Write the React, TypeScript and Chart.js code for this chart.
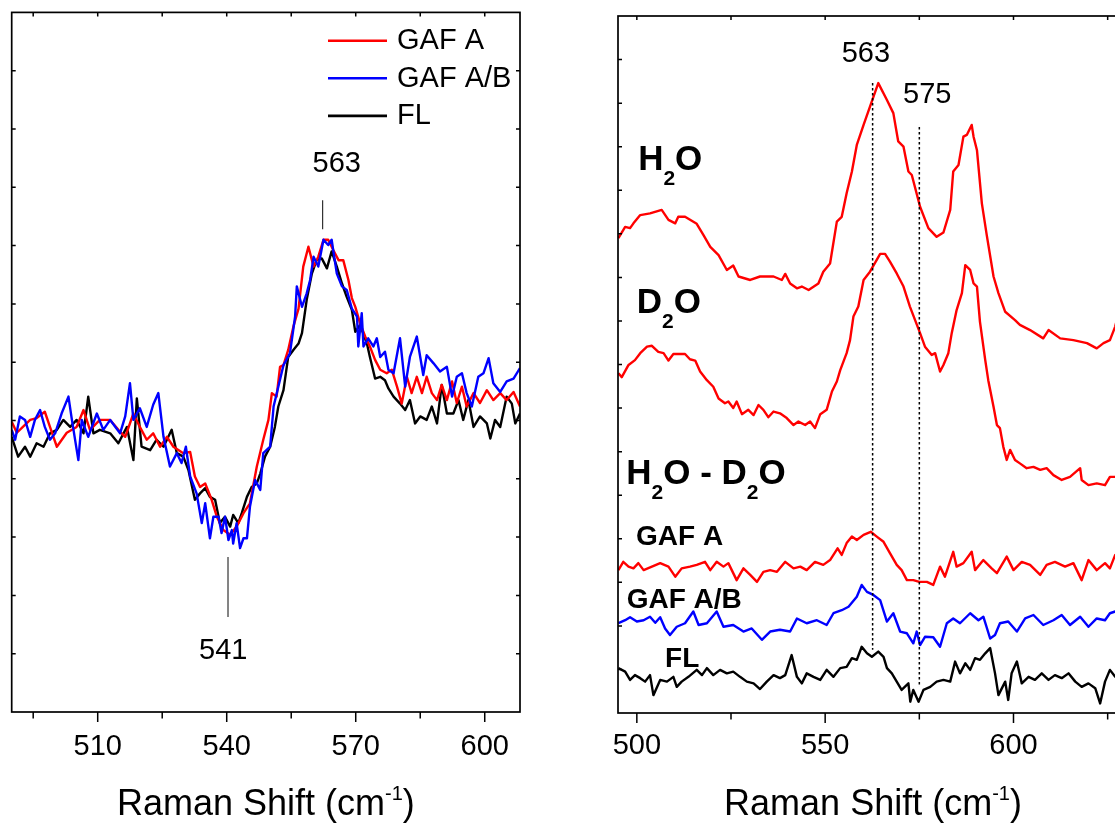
import React, { useEffect, useRef } from 'react';
import { Chart, registerables } from 'chart.js';

Chart.register(...registerables);

const FONT = "'Liberation Sans', Arial, Helvetica, sans-serif";

// ---------------- Left panel data ----------------
const LEFT_X_TICKS = [510, 540, 570, 600];
const LEFT_X_MINOR = [495, 525, 555, 585];

const LEFT_GAFA_X = [490.0,491.2,492.6,494.3,495.8,497.7,498.9,500.5,502.8,505.1,506.7,508.2,510.5,512.9,514.8,516.4,518.3,519.8,521.4,522.9,524.5,526.1,527.6,529.9,531.5,532.6,533.8,535.0,536.5,537.7,539.2,540.8,542.3,543.9,545.4,547.0,548.5,549.7,550.5,551.6,552.4,553.2,554.3,555.5,556.7,557.8,559.0,560.2,561.3,562.5,563.6,564.8,566.0,567.1,568.3,569.1,569.9,571.0,572.2,573.3,574.5,575.7,577.2,578.4,579.6,580.7,581.9,583.0,584.2,585.4,586.5,587.7,588.9,590.0,591.2,592.4,593.5,594.7,595.8,597.4,598.9,600.5,602.0,603.6,605.1,606.7,608.2];
const LEFT_GAFA_Y = [4.98,4.79,4.89,5.01,5.04,5.15,4.89,4.55,4.79,4.89,5.18,4.84,5.01,5.01,4.84,4.72,5.12,4.89,4.67,4.78,4.55,4.72,4.55,4.44,4.46,4.04,3.86,3.92,3.64,3.35,3.12,3.04,3.18,3.41,3.58,4.21,4.67,5.01,5.47,5.41,5.92,5.95,6.21,6.61,6.92,7.64,7.98,7.64,7.81,8.10,8.10,7.92,7.75,7.75,7.41,7.10,6.95,6.67,6.44,6.27,6.04,5.87,5.81,5.87,5.58,5.29,5.75,5.47,5.75,5.47,5.75,5.47,5.35,5.61,5.35,5.67,5.30,5.58,5.24,5.47,5.30,5.52,5.35,5.47,5.35,5.49,5.24];

const LEFT_GAFAB_X = [490.0,490.8,491.9,493.1,494.3,495.4,496.6,497.7,498.9,500.1,501.6,503.2,504.0,505.5,506.3,507.8,509.8,511.3,512.9,515.2,516.4,517.5,518.3,519.8,521.4,522.9,524.1,525.3,526.8,528.4,529.5,530.5,531.5,533.0,534.2,535.0,536.1,536.9,538.1,538.8,539.6,540.4,541.2,541.5,542.3,543.1,543.9,544.7,545.4,546.6,547.8,548.5,550.1,550.9,552.0,553.2,554.7,555.9,556.3,557.5,558.6,559.4,560.2,561.3,562.5,563.6,564.4,565.6,566.8,567.9,569.1,570.3,570.6,571.4,571.8,572.9,574.1,574.9,575.7,576.8,577.6,578.8,580.3,581.5,582.6,584.2,585.7,586.5,588.1,589.6,591.2,592.4,593.5,594.7,595.8,597.0,598.5,599.7,600.9,602.0,603.6,605.1,606.7,608.2];
const LEFT_GAFAB_Y = [4.84,4.67,5.07,5.01,4.72,5.01,5.18,4.89,4.67,4.78,5.12,5.41,5.01,4.32,5.01,4.72,5.12,4.84,5.01,4.78,5.07,5.64,5.01,5.21,4.89,5.27,5.47,4.72,4.21,4.44,4.27,4.55,4.04,3.75,3.24,3.58,2.98,3.35,3.35,3.07,3.35,2.95,3.12,2.89,3.24,2.81,2.98,2.98,3.52,3.98,3.81,4.44,4.55,5.24,5.58,5.95,6.15,6.78,7.30,6.95,7.18,7.41,7.81,7.64,8.10,8.01,8.10,7.52,7.30,7.24,6.92,6.78,6.27,6.84,6.27,6.41,6.27,6.41,6.09,6.18,5.87,5.81,6.41,5.58,6.09,6.44,5.78,6.12,5.98,5.84,5.92,5.41,5.75,5.81,5.47,5.24,5.75,5.81,6.07,5.64,5.49,5.67,5.72,5.90];

const LEFT_FL_X = [490.0,491.5,493.1,494.3,495.8,497.4,498.9,500.5,502.0,503.6,505.1,506.7,507.8,509.0,510.5,512.9,514.8,516.8,518.3,519.1,520.2,522.2,523.7,525.3,527.2,528.4,529.9,531.1,532.6,533.8,535.0,536.1,537.3,538.4,539.6,540.8,541.5,542.7,543.5,544.7,545.8,547.0,547.8,548.9,550.1,551.2,552.0,553.2,554.3,555.5,556.7,557.5,558.6,559.8,560.9,562.1,563.3,564.4,565.6,566.8,567.9,569.1,569.9,571.0,572.6,573.3,574.5,575.7,576.8,577.6,578.8,580.3,581.5,582.6,583.8,585.0,586.5,587.7,588.9,590.0,591.2,592.7,593.9,595.0,596.2,597.4,598.9,600.5,601.3,602.4,603.6,605.1,606.3,607.1,608.2];
const LEFT_FL_Y = [4.72,4.38,4.55,4.38,4.61,4.55,4.78,4.84,5.01,4.89,5.01,4.78,5.41,4.78,4.84,4.78,4.61,4.89,4.32,5.38,4.55,4.49,4.67,4.55,4.84,4.44,4.38,4.15,3.64,3.75,3.84,3.69,3.64,3.24,3.35,3.18,3.38,3.24,3.41,3.69,3.86,3.92,4.09,4.38,4.55,4.89,5.24,5.52,6.09,6.21,6.32,6.50,7.07,7.52,7.75,7.78,7.61,7.90,7.64,7.35,7.12,6.90,6.52,6.64,6.32,6.09,5.72,5.75,5.69,5.55,5.41,5.29,5.18,5.35,4.95,5.07,5.01,5.24,4.95,5.61,5.12,5.12,5.35,5.01,5.35,4.89,5.07,4.95,4.69,5.01,4.89,5.41,5.29,4.95,5.12];

// ---------------- Right panel data ----------------
const RIGHT_X_TICKS = [500, 550, 600];
const RIGHT_X_MINOR = [525, 575, 625];

const H2O_X = [495.1,496.9,498.2,499.1,500.9,503.5,506.6,508.4,510.2,511.0,512.8,515.9,517.7,519.5,521.7,523.9,525.6,527.0,530.1,532.7,536.3,538.5,539.4,540.7,542.5,543.8,545.6,548.2,549.5,551.3,553.1,554.4,555.7,557.1,558.4,560.2,561.9,564.1,566.4,568.1,569.4,570.8,572.1,573.0,575.2,577.4,579.6,581.4,583.2,584.0,585.4,586.7,587.6,588.9,589.4,590.3,591.6,592.9,594.7,596.0,597.8,600.4,601.7,604.4,607.9,609.3,612.4,615.9,619.5,622.1,623.9,625.6,627.0,628.5,630.0];
const H2O_Y = [10.90,11.16,11.13,11.24,11.43,11.47,11.55,11.32,11.24,11.39,11.39,11.23,10.97,10.70,10.51,10.17,10.27,10.02,9.94,10.02,10.02,9.94,10.08,9.86,9.75,9.79,9.71,9.86,10.13,10.32,11.28,11.39,11.93,12.43,13.04,13.50,13.92,14.46,14.07,13.77,13.12,13.00,12.43,12.35,11.62,11.13,10.93,11.03,11.55,12.43,12.58,13.23,13.27,13.50,13.23,12.92,11.70,10.97,10.02,9.64,9.21,9.02,8.91,8.79,8.60,8.79,8.60,8.56,8.49,8.37,8.49,8.56,8.87,9.40,10.00];

const D2O_X = [495.1,496.0,497.8,499.5,500.9,502.7,504.0,505.7,507.1,508.4,509.7,512.8,514.1,515.5,516.8,518.6,520.3,521.7,523.4,524.3,525.6,526.5,527.9,529.6,531.0,532.3,533.6,534.9,536.3,538.0,539.8,541.6,542.9,544.7,546.0,547.3,548.7,550.4,551.8,553.1,554.0,555.7,556.6,557.5,558.8,560.2,561.9,564.6,565.9,567.2,569.0,570.8,572.5,575.2,576.5,578.3,579.2,580.5,581.4,582.7,583.6,584.9,586.3,587.2,588.5,589.4,590.3,591.1,592.5,593.3,594.7,595.6,596.4,597.3,598.2,599.1,600.4,601.7,603.5,605.3,607.1,608.8,610.6,612.8,615.0,617.7,618.1,619.9,622.1,624.3,625.6,627.0,629.0];
const D2O_Y = [7.80,7.71,7.99,8.10,8.26,8.41,8.43,8.29,8.26,8.09,8.24,8.24,8.12,8.09,7.84,7.64,7.49,7.22,7.11,7.15,7.00,7.15,6.86,6.96,6.84,7.07,6.96,6.79,6.92,6.88,6.77,6.61,6.69,6.61,6.69,6.54,6.86,6.96,7.38,7.61,7.87,8.26,8.56,9.10,9.33,9.94,10.13,10.54,10.54,10.36,10.09,9.79,9.33,8.72,8.41,8.22,8.26,7.84,7.99,8.26,8.72,9.25,9.64,10.28,10.17,9.86,9.79,8.98,8.10,7.64,7.03,6.61,6.54,6.11,5.81,6.04,5.81,5.73,5.62,5.65,5.58,5.62,5.46,5.35,5.42,5.62,5.35,5.23,5.27,5.23,5.42,5.42,5.50];

const DIFF_GAFA_X = [495.1,496.4,497.8,499.1,500.4,501.8,504.0,506.2,508.4,510.2,511.9,514.1,515.9,518.1,519.5,521.2,523.0,524.3,526.5,528.3,530.1,531.9,533.6,535.4,537.2,539.4,541.6,543.4,545.1,547.3,549.5,551.3,553.3,554.4,555.7,557.1,558.4,560.2,562.1,563.7,565.5,567.2,569.0,570.3,571.7,573.4,575.0,577.0,578.7,580.5,581.8,584.0,584.9,586.7,588.9,589.8,592.0,594.2,595.6,598.2,600.0,602.2,604.4,607.1,608.8,611.0,613.7,615.9,618.1,619.9,622.1,624.3,625.6,627.0,629.0];
const DIFF_GAFA_Y = [3.28,3.47,3.36,3.32,3.44,3.28,3.36,3.44,3.36,3.13,3.32,3.36,3.40,3.47,3.28,3.47,3.36,3.44,3.05,3.32,3.17,3.01,3.24,3.28,3.24,3.47,3.32,3.36,3.28,3.47,3.40,3.51,3.78,3.63,3.90,4.05,3.97,4.09,4.16,4.05,3.93,3.67,3.40,3.28,3.05,3.05,3.01,3.01,2.94,3.36,3.13,3.70,3.36,3.44,3.70,3.28,3.51,3.32,3.21,3.59,3.28,3.47,3.40,3.17,3.40,3.47,3.36,3.44,3.05,3.51,3.28,3.44,3.32,3.63,3.55];

const DIFF_GAFAB_X = [495.1,496.9,498.2,500.0,501.8,503.5,504.9,506.2,507.5,508.8,510.6,512.8,515.0,516.4,518.6,521.2,523.0,525.6,528.3,530.5,533.2,535.4,538.0,540.7,542.5,545.1,547.8,550.4,552.2,554.4,556.2,558.4,559.7,561.1,562.8,564.6,566.4,568.1,569.9,571.7,573.4,574.3,575.2,576.5,578.7,580.5,582.3,584.0,585.8,588.5,590.7,592.0,593.8,595.1,596.4,598.6,600.9,603.1,605.3,607.9,610.6,612.8,615.0,617.7,619.9,622.1,624.3,625.6,627.0,629.0];
const DIFF_GAFAB_Y = [2.06,2.13,2.20,2.10,2.13,2.21,2.07,2.20,1.94,1.79,1.98,2.06,2.33,2.02,2.06,2.33,1.98,2.02,1.87,1.94,1.68,1.87,1.91,1.87,2.17,2.06,2.13,2.02,2.29,2.36,2.44,2.67,2.94,2.78,2.71,2.59,2.10,2.29,1.87,1.83,1.60,1.87,1.56,1.75,1.74,1.52,2.06,2.17,2.06,2.29,2.13,2.21,1.71,1.79,2.06,2.10,1.87,2.17,2.25,2.02,2.13,2.25,2.02,2.21,1.98,2.17,2.13,2.29,2.33,2.30];

const DIFF_FL_X = [495.1,496.9,498.2,499.5,500.9,502.2,503.5,504.4,506.2,508.0,509.7,510.6,511.9,513.7,515.9,517.3,518.6,520.3,522.1,523.9,525.6,527.4,529.2,531.0,532.7,534.5,536.3,538.0,539.4,541.1,542.5,543.8,545.1,546.9,548.7,550.4,552.2,554.0,555.7,557.1,558.4,559.7,561.1,562.4,564.1,565.5,566.4,567.7,569.0,570.3,572.1,572.6,573.4,574.8,576.1,577.9,579.6,581.4,583.2,584.5,585.8,587.2,588.5,589.8,591.1,592.5,593.8,595.1,596.0,597.8,598.6,599.5,600.9,602.2,604.0,605.7,607.5,609.3,611.0,612.8,614.6,616.4,618.1,619.9,621.7,623.0,624.3,625.6,627.0,629.0];
const DIFF_FL_Y = [1.03,0.95,0.76,0.87,0.80,0.72,0.87,0.41,0.76,0.72,0.83,0.60,0.72,0.83,0.99,0.87,1.03,0.87,0.99,0.91,0.95,0.83,0.72,0.68,0.55,0.72,0.87,0.80,0.87,1.33,0.83,0.68,0.91,0.83,0.76,0.99,0.83,1.03,1.06,1.26,1.22,1.52,1.37,1.29,1.41,1.29,1.03,0.91,0.72,0.53,0.68,0.26,0.53,0.26,0.53,0.60,0.72,0.76,0.72,1.18,0.91,1.14,0.99,1.26,1.22,1.37,1.49,0.91,0.41,0.72,0.30,0.91,1.18,0.68,0.83,0.76,0.91,0.76,0.87,0.80,0.91,0.72,0.60,0.68,0.57,0.22,0.72,0.99,0.83,0.90];

const LEGEND_LABELS = ['GAF A', 'GAF A/B', 'FL'];
const SERIES_COLORS = ['#ff0000', '#0000ff', '#000000'];

type Part = { t: string; size: number; bold?: boolean; dy?: number };

const zip = (xs: number[], ys: number[]) =>
  xs.slice(0, Math.min(xs.length, ys.length)).map((x, i) => ({ x, y: ys[i] }));

function partsWidth(ctx: CanvasRenderingContext2D, parts: Part[]) {
  let w = 0;
  for (const p of parts) {
    ctx.font = `${p.bold ? 'bold ' : ''}${p.size}px ${FONT}`;
    w += ctx.measureText(p.t).width;
  }
  return w;
}

function drawParts(ctx: CanvasRenderingContext2D, x: number, y: number, parts: Part[]) {
  let cx = x;
  ctx.textBaseline = 'alphabetic';
  ctx.textAlign = 'left';
  for (const p of parts) {
    ctx.font = `${p.bold ? 'bold ' : ''}${p.size}px ${FONT}`;
    ctx.fillText(p.t, cx, y + (p.dy || 0));
    cx += ctx.measureText(p.t).width;
  }
}

const TITLE_PARTS: Part[] = [
  { t: 'Raman Shift (cm', size: 36 },
  { t: '-1', size: 20, dy: -15 },
  { t: ')', size: 36 },
];

type FrameOpts = {
  major: number[];
  minor: number[];
  extra: (chart: any, ctx: CanvasRenderingContext2D) => void;
};

function framePlugin(opts: FrameOpts) {
  return {
    id: 'frameNotes',
    afterDatasetsDraw(chart: any) {
      const ctx: CanvasRenderingContext2D = chart.ctx;
      const { left, right, top, bottom } = chart.chartArea;
      const xs = chart.scales.x;
      const ys = chart.scales.y;
      ctx.save();
      ctx.strokeStyle = '#000';
      ctx.lineWidth = 1.7;
      ctx.strokeRect(left, top, right - left, bottom - top);
      ctx.lineWidth = 1.5;
      ctx.beginPath();
      for (const v of opts.major) {
        const px = xs.getPixelForValue(v);
        ctx.moveTo(px, bottom);
        ctx.lineTo(px, bottom + 10);
        ctx.moveTo(px, top);
        ctx.lineTo(px, top + 4);
      }
      for (const v of opts.minor) {
        const px = xs.getPixelForValue(v);
        ctx.moveTo(px, bottom);
        ctx.lineTo(px, bottom + 6.5);
        ctx.moveTo(px, top);
        ctx.lineTo(px, top + 4);
      }
      for (let v = ys.min + 1; v < ys.max; v += 1) {
        const py = ys.getPixelForValue(v);
        ctx.moveTo(left, py);
        ctx.lineTo(left + 4, py);
        ctx.moveTo(right, py);
        ctx.lineTo(right - 4, py);
      }
      ctx.stroke();
      opts.extra(chart, ctx);
      // axis title
      ctx.fillStyle = '#000';
      const w = partsWidth(ctx, TITLE_PARTS);
      drawParts(ctx, (left + right) / 2 - w / 2, 815, TITLE_PARTS);
      ctx.restore();
    },
  };
}

function xScale(min: number, max: number, ticks: number[], height: number, padding: number) {
  return {
    type: 'linear',
    min,
    max,
    afterBuildTicks: (s: any) => {
      s.ticks = ticks.map((v) => ({ value: v }));
    },
    afterFit: (s: any) => {
      s.height = height;
    },
    grid: { display: false, drawTicks: false },
    border: { display: false },
    ticks: {
      color: '#000',
      padding,
      maxRotation: 0,
      autoSkip: false,
      font: { size: 29, family: FONT },
    },
  };
}

function lineSet(data: { x: number; y: number }[], color: string, order = 0) {
  return {
    data,
    borderColor: color,
    backgroundColor: color,
    borderWidth: 2.4,
    pointRadius: 0,
    tension: 0,
    fill: false,
    borderJoinStyle: 'round',
    order,
  };
}

export default function App() {
  const leftRef = useRef<HTMLCanvasElement>(null);
  const rightRef = useRef<HTMLCanvasElement>(null);

  useEffect(() => {
    const leftExtra = (chart: any, ctx: CanvasRenderingContext2D) => {
      const xs = chart.scales.x;
      const ys = chart.scales.y;
      const { right, top } = chart.chartArea;
      // peak markers
      ctx.strokeStyle = '#333';
      ctx.lineWidth = 1.2;
      ctx.beginPath();
      ctx.moveTo(xs.getPixelForValue(562.3), ys.getPixelForValue(8.78));
      ctx.lineTo(xs.getPixelForValue(562.3), ys.getPixelForValue(8.28));
      ctx.moveTo(xs.getPixelForValue(540.3), ys.getPixelForValue(2.66));
      ctx.lineTo(xs.getPixelForValue(540.3), ys.getPixelForValue(1.63));
      ctx.stroke();
      ctx.fillStyle = '#000';
      ctx.font = `29px ${FONT}`;
      ctx.textAlign = 'center';
      ctx.textBaseline = 'alphabetic';
      ctx.fillText('563', xs.getPixelForValue(565.6), ys.getPixelForValue(9.26));
      ctx.fillText('541', xs.getPixelForValue(539.2), ys.getPixelForValue(0.91));
      // legend
      LEGEND_LABELS.forEach((lab, i) => {
        const y = top + 28.3 + i * 37.6;
        ctx.strokeStyle = SERIES_COLORS[i];
        ctx.lineWidth = 2.6;
        ctx.beginPath();
        ctx.moveTo(right - 192, y);
        ctx.lineTo(right - 133, y);
        ctx.stroke();
        ctx.fillStyle = '#000';
        ctx.font = `29px ${FONT}`;
        ctx.textAlign = 'left';
        ctx.textBaseline = 'middle';
        ctx.fillText(lab, right - 123, y + 0.5);
      });
    };

    const rightExtra = (chart: any, ctx: CanvasRenderingContext2D) => {
      const xs = chart.scales.x;
      const ys = chart.scales.y;
      // dotted peak lines
      ctx.strokeStyle = '#000';
      ctx.lineWidth = 1.5;
      ctx.setLineDash([2.5, 2.5]);
      ctx.beginPath();
      ctx.moveTo(xs.getPixelForValue(562.6), ys.getPixelForValue(14.46));
      ctx.lineTo(xs.getPixelForValue(562.6), ys.getPixelForValue(1.45));
      ctx.moveTo(xs.getPixelForValue(575.0), ys.getPixelForValue(13.45));
      ctx.lineTo(xs.getPixelForValue(575.0), ys.getPixelForValue(0.6));
      ctx.stroke();
      ctx.setLineDash([]);
      ctx.fillStyle = '#000';
      ctx.font = `29px ${FONT}`;
      ctx.textAlign = 'center';
      ctx.textBaseline = 'alphabetic';
      ctx.fillText('563', xs.getPixelForValue(560.8), ys.getPixelForValue(14.94));
      ctx.fillText('575', xs.getPixelForValue(577.1), ys.getPixelForValue(14.0));
      const big = 35;
      const sub = 21;
      const h2o: Part[] = [
        { t: 'H', size: big, bold: true },
        { t: '2', size: sub, bold: true, dy: 15 },
        { t: 'O', size: big, bold: true },
      ];
      const d2o: Part[] = [
        { t: 'D', size: big, bold: true },
        { t: '2', size: sub, bold: true, dy: 15 },
        { t: 'O', size: big, bold: true },
      ];
      const diff: Part[] = [
        { t: 'H', size: big, bold: true },
        { t: '2', size: sub, bold: true, dy: 15 },
        { t: 'O - D', size: big, bold: true },
        { t: '2', size: sub, bold: true, dy: 15 },
        { t: 'O', size: big, bold: true },
      ];
      drawParts(ctx, xs.getPixelForValue(500.35), ys.getPixelForValue(12.47), h2o);
      drawParts(ctx, xs.getPixelForValue(500.0), ys.getPixelForValue(9.18), d2o);
      drawParts(ctx, xs.getPixelForValue(497.2), ys.getPixelForValue(5.26), diff);
      drawParts(ctx, xs.getPixelForValue(499.8), ys.getPixelForValue(3.86), [{ t: 'GAF A', size: 28, bold: true }]);
      drawParts(ctx, xs.getPixelForValue(497.3), ys.getPixelForValue(2.41), [{ t: 'GAF A/B', size: 28, bold: true }]);
      drawParts(ctx, xs.getPixelForValue(507.5), ys.getPixelForValue(1.06), [{ t: 'FL', size: 28, bold: true }]);
    };

    const left = new Chart(leftRef.current as HTMLCanvasElement, {
      type: 'line',
      data: {
        datasets: [
          lineSet(zip(LEFT_GAFA_X, LEFT_GAFA_Y), SERIES_COLORS[0], 1),
          lineSet(zip(LEFT_GAFAB_X, LEFT_GAFAB_Y), SERIES_COLORS[1], 0),
          lineSet(zip(LEFT_FL_X, LEFT_FL_Y), SERIES_COLORS[2], 2),
        ],
      } as any,
      options: {
        animation: false,
        responsive: false,
        devicePixelRatio: 1,
        layout: { padding: { left: 11.7, top: 12.4, right: 40, bottom: 0 } },
        plugins: { legend: { display: false }, tooltip: { enabled: false } },
        scales: {
          x: xScale(490, 608.2, LEFT_X_TICKS, 116, 18) as any,
          y: { type: 'linear', min: 0, max: 12, display: false },
        },
      },
      plugins: [framePlugin({ major: LEFT_X_TICKS, minor: LEFT_X_MINOR, extra: leftExtra })],
    });

    const right = new Chart(rightRef.current as HTMLCanvasElement, {
      type: 'line',
      data: {
        datasets: [
          lineSet(zip(H2O_X, H2O_Y), '#ff0000'),
          lineSet(zip(D2O_X, D2O_Y), '#ff0000'),
          lineSet(zip(DIFF_GAFA_X, DIFF_GAFA_Y), '#ff0000'),
          lineSet(zip(DIFF_GAFAB_X, DIFF_GAFAB_Y), '#0000ff'),
          lineSet(zip(DIFF_FL_X, DIFF_FL_Y), '#000000'),
        ],
      } as any,
      options: {
        animation: false,
        responsive: false,
        devicePixelRatio: 1,
        layout: { padding: { left: 58, top: 16, right: 32, bottom: 0 } },
        plugins: { legend: { display: false }, tooltip: { enabled: false } },
        scales: {
          x: xScale(495, 630.4, RIGHT_X_TICKS, 115, 16) as any,
          y: { type: 'linear', min: 0, max: 16, display: false },
        },
      },
      plugins: [framePlugin({ major: RIGHT_X_TICKS, minor: RIGHT_X_MINOR, extra: rightExtra })],
    });

    return () => {
      left.destroy();
      right.destroy();
    };
  }, []);

  return (
    <div
      style={{
        position: 'fixed',
        left: 0,
        top: 0,
        width: 1115,
        height: 828,
        overflow: 'hidden',
        background: '#fff',
      }}
    >
      <canvas
        ref={leftRef}
        width={560}
        height={828}
        style={{ position: 'absolute', left: 0, top: 0, width: 560, height: 828 }}
      />
      <canvas
        ref={rightRef}
        width={600}
        height={828}
        style={{ position: 'absolute', left: 560, top: 0, width: 600, height: 828 }}
      />
    </div>
  );
}
